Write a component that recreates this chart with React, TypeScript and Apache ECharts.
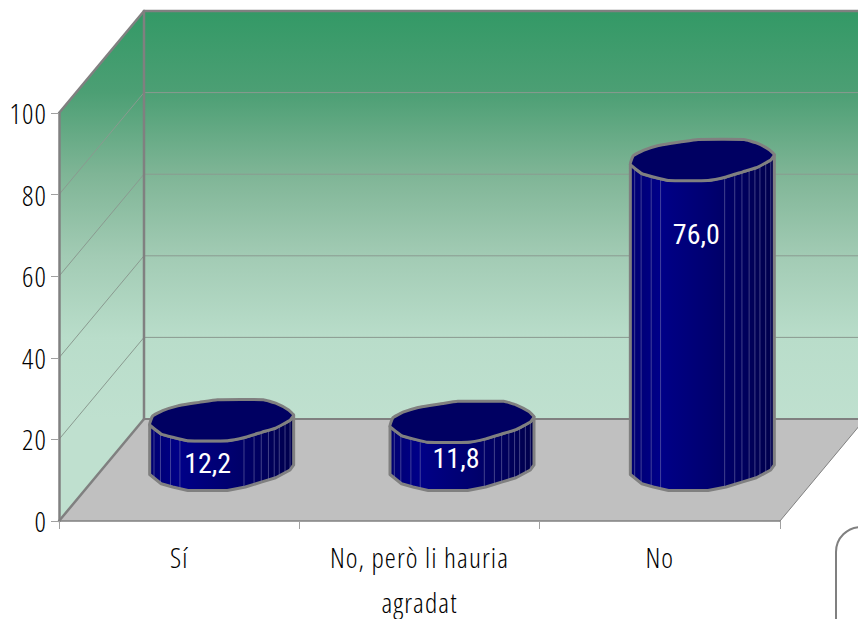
import React, { useEffect, useRef } from "react";
import * as echarts from "echarts";

const categories = ["Sí", "No, però li hauria\nagradat", "No"];
const values = [12.2, 11.8, 76.0];
const yTicks = [20, 40, 60, 80, 100];

// label nudges relative to the top of each cylinder (dx, dy)
const labelNudges = [[-14, 43], [-6, 37], [-6, 75]];

const DEPTH_X = 85;
const DEPTH_Y = -102;
const GRAY = "#808080";
const AXIS_FONT = '"Open Sans", sans-serif';
const VALUE_FONT = '"Roboto", sans-serif';

// faceted ring (unit coordinates) shared by every cylinder
const ring = [
  [-1, 0.22], [-0.96, -0.2], [-0.82, -0.47], [-0.61, -0.7], [-0.45, -0.8], [-0.31, -0.87], [-0.06, -1],
  [0.58, -1], [0.75, -0.83], [0.93, -0.5], [1, -0.25], [0.95, 0], [0.75, 0.38], [0.56, 0.58], [0.33, 0.83],
  [0.08, 1], [-0.47, 1], [-0.68, 0.83], [-0.84, 0.67],
];
const frontRing = [
  [-1, 0.22], [-0.84, 0.67], [-0.68, 0.83], [-0.47, 1], [0.08, 1], [0.33, 0.83], [0.56, 0.58], [0.75, 0.38],
  [0.95, 0], [1, -0.25],
];
const facetLines = [-0.94, -0.85, -0.71, -0.58, 0.31, 0.45, 0.55, 0.65, 0.73, 0.8, 0.88, 0.95];

function frontV(u: number) {
  for (let i = 1; i < frontRing.length; i++) {
    const a = frontRing[i - 1];
    const b = frontRing[i];
    if (u <= b[0]) return a[1] + ((u - a[0]) / (b[0] - a[0])) * (b[1] - a[1]);
  }
  return frontRing[frontRing.length - 1][1];
}

function renderWalls(params: any, api: any) {
  const cs = params.coordSys;
  const x0 = cs.x;
  const x1 = cs.x + cs.width;
  const y0 = cs.y + cs.height;
  const yTop = cs.y;
  const bx0 = x0 + DEPTH_X;
  const bx1 = x1 + DEPTH_X;
  const wallFill = {
    type: "linear", global: true,
    x: 0, y: yTop + DEPTH_Y, x2: 0, y2: y0 + DEPTH_Y,
    colorStops: [
      { offset: 0, color: "#339966" },
      { offset: 0.2, color: "#4C9F74" },
      { offset: 0.4, color: "#7FB596" },
      { offset: 0.6, color: "#A2CBB4" },
      { offset: 0.8, color: "#B9DDCA" },
      { offset: 1, color: "#BFE0CF" },
    ],
  };
  const line = (a: number[], b: number[], w: number, color = GRAY) => ({
    type: "line",
    shape: { x1: a[0], y1: a[1], x2: b[0], y2: b[1] },
    style: { stroke: color, lineWidth: w, lineCap: "round" },
  });
  const children: any[] = [
    {
      type: "polygon",
      shape: { points: [[bx0, yTop + DEPTH_Y], [bx1, yTop + DEPTH_Y], [bx1, y0 + DEPTH_Y], [bx0, y0 + DEPTH_Y]] },
      style: { fill: wallFill },
    },
    {
      type: "polygon",
      shape: { points: [[x0, yTop], [bx0, yTop + DEPTH_Y], [bx0, y0 + DEPTH_Y], [x0, y0]] },
      style: { fill: wallFill },
    },
    {
      type: "polygon",
      shape: { points: [[x0, y0], [x1, y0], [bx1, y0 + DEPTH_Y], [bx0, y0 + DEPTH_Y]] },
      style: { fill: "#C0C0C0" },
    },
  ];
  yTicks.slice(0, -1).forEach((v) => {
    const y = api.coord([0, v])[1];
    children.push(line([x0, y], [bx0, y + DEPTH_Y], 1, "#8a9a90"));
    children.push(line([bx0, y + DEPTH_Y], [bx1, y + DEPTH_Y], 1, "#8a9a90"));
  });
  children.push(line([bx0, yTop + DEPTH_Y], [bx1, yTop + DEPTH_Y], 2.5));
  children.push(line([bx0, yTop + DEPTH_Y], [bx0, y0 + DEPTH_Y], 2.5));
  children.push(line([x0, yTop], [bx0, yTop + DEPTH_Y], 2.5));
  children.push(line([x0, y0], [bx0, y0 + DEPTH_Y], 2.5));
  children.push(line([bx0, y0 + DEPTH_Y], [bx1, y0 + DEPTH_Y], 2));
  children.push(line([x1, y0], [bx1, y0 + DEPTH_Y], 1));
  return { type: "group", children };
}

function renderCylinder(params: any, api: any) {
  const idx = api.value(0);
  const val = api.value(1);
  const [cxFront, yVal] = api.coord([idx, val]);
  const yZero = api.coord([idx, 0])[1];
  const cx = cxFront + DEPTH_X / 2;
  const topY = yVal + DEPTH_Y / 2;
  const baseY = yZero + DEPTH_Y / 2;
  const rx = 72;
  const ry = 20.5;
  const pt = (p: number[], cy: number) => [cx + p[0] * rx, cy + p[1] * ry];

  const body = [
    ...frontRing.map((p) => pt(p, topY)),
    ...frontRing.slice().reverse().map((p) => pt(p, baseY)),
  ];
  const facets = facetLines.map((u) => {
    const v = frontV(u);
    return {
      type: "line",
      shape: { x1: cx + u * rx, y1: topY + v * ry, x2: cx + u * rx, y2: baseY + v * ry },
      style: { stroke: "rgba(130,130,180,0.5)", lineWidth: 1 },
    };
  });
  const nudge = labelNudges[idx];
  const text = val.toFixed(1).replace(".", ",");
  return {
    type: "group",
    children: [
      {
        type: "polygon",
        shape: { points: body },
        style: {
          fill: {
            type: "linear", x: 0, y: 0, x2: 1, y2: 0,
            colorStops: [
              { offset: 0, color: "#000070" },
              { offset: 0.2, color: "#000088" },
              { offset: 0.55, color: "#000070" },
              { offset: 1, color: "#00004C" },
            ],
          },
          stroke: GRAY,
          lineWidth: 3,
          lineJoin: "round",
        },
      },
      ...facets,
      {
        type: "polygon",
        shape: { points: ring.map((p) => pt(p, topY)), smooth: 0.12 },
        style: { fill: "#000062", stroke: GRAY, lineWidth: 3, lineJoin: "round" },
      },
      {
        type: "text",
        style: {
          text,
          x: cx + nudge[0],
          y: topY + nudge[1],
          fill: "#ffffff",
          font: `400 28px ${VALUE_FONT}`,
          align: "center",
          verticalAlign: "middle",
        },
      },
    ],
  };
}

export default function App() {
  const ref = useRef<HTMLDivElement>(null);

  useEffect(() => {
    document.body.style.margin = "0";
    const css = document.createElement("style");
    css.textContent =
      'svg text { font-stretch: 75% !important; letter-spacing: 1.1px; } svg text[style*="Roboto"], svg text[fill="#fff"] { letter-spacing: 0; }';
    document.head.appendChild(css);
    const chart = echarts.init(ref.current!, null, { renderer: "svg" });
    chart.setOption({
      animation: false,
      backgroundColor: "#ffffff",
      grid: { left: 59, right: 78, top: 113, bottom: 98, containLabel: false, outerBoundsMode: "none" },
      xAxis: {
        type: "category",
        data: categories,
        z: 3,
        axisLine: { show: true, lineStyle: { color: GRAY, width: 1.5 } },
        axisTick: { show: true, length: 8, lineStyle: { color: "#a0a0a0", width: 1 } },
        axisLabel: {
          color: "#000000",
          fontFamily: AXIS_FONT,
          fontSize: 28,
          fontWeight: 300,
          lineHeight: 45,
          margin: 13,
          interval: 0,
        },
      },
      yAxis: {
        type: "value",
        min: 0,
        max: 100,
        interval: 20,
        z: 3,
        axisLine: { show: true, lineStyle: { color: GRAY, width: 2.5 } },
        axisTick: { show: true, length: 8, lineStyle: { color: "#a0a0a0", width: 1 } },
        splitLine: { show: false },
        axisLabel: { color: "#000000", fontFamily: AXIS_FONT, fontSize: 28, fontWeight: 300, margin: 12 },
      },
      tooltip: { show: false },
      series: [
        {
          type: "custom",
          name: "walls",
          z: 1,
          silent: true,
          clip: false,
          data: [[0, 0]],
          renderItem: renderWalls,
        },
        {
          type: "custom",
          name: "values",
          z: 2,
          silent: true,
          clip: false,
          encode: { x: 0, y: 1 },
          data: values.map((v, i) => [i, v]),
          renderItem: renderCylinder,
        },
      ],
      graphic: [
        {
          type: "rect",
          z: 10,
          silent: true,
          shape: { x: 836, y: 527, width: 120, height: 200, r: 25 },
          style: { fill: "#ffffff", stroke: GRAY, lineWidth: 2 },
        },
      ],
    });
    return () => {
      chart.dispose();
      css.remove();
    };
  }, []);

  return <div ref={ref} style={{ width: 858, height: 619, display: "block" }} />;
}
